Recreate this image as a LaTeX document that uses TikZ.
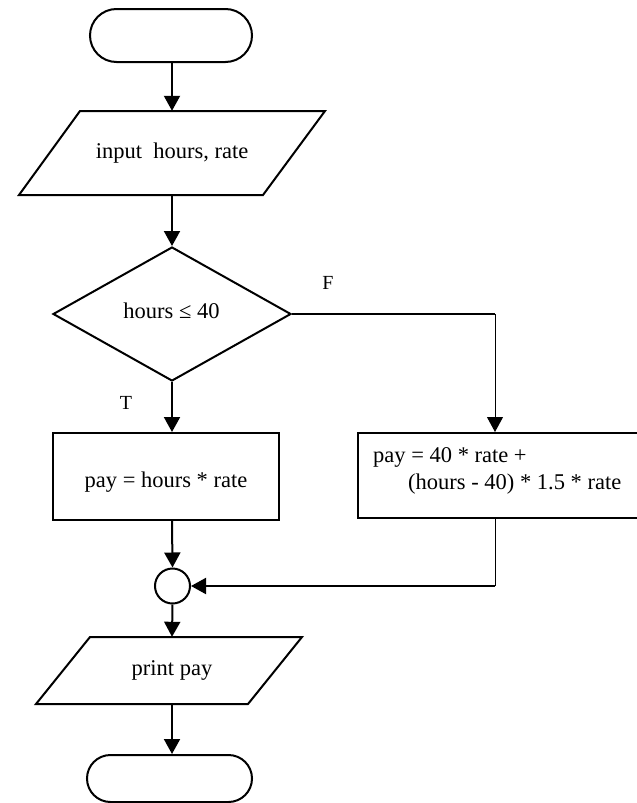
\documentclass[tikz,border=0pt]{standalone}
\usepackage{fontspec}
\setmainfont{Liberation Serif}
\usetikzlibrary{arrows.meta,shapes.geometric}
\begin{document}
\begin{tikzpicture}[x=1pt,y=-1pt,
  every node/.style={font=\fontsize{22.5}{26}\selectfont, inner sep=0pt},
  thickline/.style={line width=2pt},
  thinline/.style={line width=1pt},
  arr/.style={-{Triangle[width=16pt,length=15pt]}},
  termbox/.style={draw, thickline, rounded corners=#1},
  procbox/.style={draw, thickline, rectangle},
  lbl/.style={font=\fontsize{20}{24}\selectfont}
]
\useasboundingbox (0,0) rectangle (637,803);

% start terminal
\node[termbox=26.5pt, minimum width=162pt, minimum height=53pt] (start) at (171,35.5) {};

% input parallelogram
\draw[thickline, line join=miter] (80,111) -- (325,111) -- (263,195) -- (19,195) -- cycle;
\node[minimum height=84pt, minimum width=180pt] (in) at (172,153) {input\ \ hours, rate};

% decision
\node[diamond, draw, thickline, minimum width=238pt, minimum height=134pt] (d) at (172,314) {};
\node at (171.5,311) {hours ≤ 40};
\node[lbl] (F) at (328,283) {F};
\node[lbl] (T) at (126,403) {T};

% left process
\node[procbox, minimum width=226pt, minimum height=87pt] (lb) at (166,476.5) {};
\node (lbt) at (166,482) {pay = hours * rate};

% right process
\node[procbox, minimum width=290pt, minimum height=85pt] (rb) at (503,475.5) {};
\node[anchor=base west] (rl1) at (373,462) {pay = 40 * rate +};
\node[anchor=base west] (rl2) at (408,489) {(hours - 40) * 1.5 * rate};

% connector circle
\node[circle, draw, thickline, minimum size=35pt] (c) at (172.5,586) {};

% print parallelogram
\draw[thickline, line join=miter] (90,637) -- (302,637) -- (248,704) -- (36,704) -- cycle;
\node[minimum height=67pt, minimum width=150pt] (out) at (172,670.5) {print pay};

% end terminal
\node[termbox=23.5pt, minimum width=165pt, minimum height=47pt] (end) at (169.5,778.5) {};

\coordinate (rx) at (495,314);
\coordinate (ry) at (495,586);

% connectors
\draw[thickline, arr] (start.south -| in.north) -- (in.north);
\draw[thickline, arr] (in.south) -- (d.north);
\draw[thickline, arr] (d.south) -- (d.south |- lb.north);
\draw[thickline, arr] (d.south |- lb.south) -- (c.north);
\draw[thickline, arr] (c.south) -- (out.north);
\draw[thickline, arr] (out.south) -- (out.south |- end.north);
\draw[thickline] (d.east) -- (rx);
\draw[thinline, arr] (rx) -- (rx |- rb.north);
\draw[thinline] (rx |- rb.south) -- (ry);
\draw[thickline, arr] (ry) -- (c.east);
\end{tikzpicture}
\end{document}
